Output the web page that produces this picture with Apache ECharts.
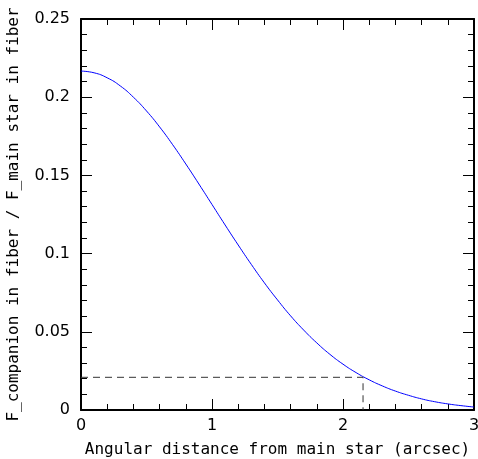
<!DOCTYPE html>
<html>
<head>
<meta charset="utf-8">
<script src="https://cdn.jsdelivr.net/npm/echarts@6/dist/echarts.min.js"></script>
<style>
html,body{margin:0;padding:0;background:#fff;}
#chart{width:478px;height:459px;}
</style>
</head>
<body>
<div id="chart"></div>
<script>
// 角距离 (arcsec)
var distance = [0,0.1,0.2,0.3,0.4,0.5,0.6,0.7,0.8,0.9,1.0,1.1,1.2,1.3,1.4,1.5,1.6,1.7,1.8,1.9,2.0,2.1,2.2,2.3,2.4,2.5,2.6,2.7,2.8,2.9,3.0];
// 光纤内通量比
var fluxRatio = [0.2167,0.2156,0.2124,0.2072,0.2000,0.1912,0.1810,0.1696,0.1573,0.1445,0.1314,0.1183,0.1055,0.0931,0.0813,0.0704,0.0602,0.0511,0.0429,0.0356,0.0293,0.0239,0.0193,0.0154,0.0121,0.0094,0.0071,0.0053,0.0039,0.0028,0.0019];
// 虚线标记点
var markX = [0, 2.153];
var markY = [0.0209, 0];

var curve = [];
for (var i = 0; i < distance.length; i++) {
	curve.push([distance[i], fluxRatio[i]]);
}

var txtFont = 'DejaVu Sans Mono';
var numFont = 'DejaVu Sans';

function axisBase(pos, show) {
	return {
		type: 'value',
		position: pos,
		axisLine: { show: true, onZero: false, lineStyle: { color: '#000', width: 2 } },
		axisTick: { show: true, inside: true, length: 11, lineStyle: { color: '#000', width: 1 } },
		minorTick: { show: true, splitNumber: 5, length: 6, lineStyle: { color: '#000', width: 1 } },
		splitLine: { show: false },
		axisLabel: { show: show, color: '#000', fontFamily: numFont, fontSize: 16 }
	};
}

var xBottom = axisBase('bottom', true);
xBottom.min = 0; xBottom.max = 3; xBottom.interval = 1;
xBottom.axisLabel.margin = 8;
xBottom.name = 'Angular distance from main star (arcsec)';
xBottom.nameLocation = 'middle';
xBottom.nameGap = 32;
xBottom.nameTextStyle = { color: '#000', fontFamily: txtFont, fontSize: 16 };
var xTop = axisBase('top', false);
xTop.min = 0; xTop.max = 3; xTop.interval = 1;

var yLeft = axisBase('left', true);
yLeft.min = 0; yLeft.max = 0.25; yLeft.interval = 0.05;
yLeft.axisLabel.margin = 11;
yLeft.name = 'F_companion in fiber / F_main star in fiber';
yLeft.nameLocation = 'middle';
yLeft.nameGap = 59;
yLeft.nameTextStyle = { color: '#000', fontFamily: txtFont, fontSize: 16 };
var yRight = axisBase('right', false);
yRight.min = 0; yRight.max = 0.25; yRight.interval = 0.05;

var myChart = echarts.init(document.getElementById('chart'));
var option = {
	animation: false,
	backgroundColor: '#fff',
	grid: { left: 81, right: 4, top: 19, bottom: 49, containLabel: false, outerBoundsMode: 'none' },
	xAxis: [xBottom, xTop],
	yAxis: [yLeft, yRight],
	series: [
		{
			type: 'line',
			data: curve,
			smooth: true,
			symbol: 'none',
			lineStyle: { color: '#0000ff', width: 1 }
		},
		{
			type: 'line',
			data: [[markX[0], markY[0]], [markX[1], markY[0]], [markX[1], markY[1]]],
			symbol: 'none',
			lineStyle: { color: '#333', width: 1, type: [7, 5] }
		}
	]
};
myChart.setOption(option);
</script>
</body>
</html>
